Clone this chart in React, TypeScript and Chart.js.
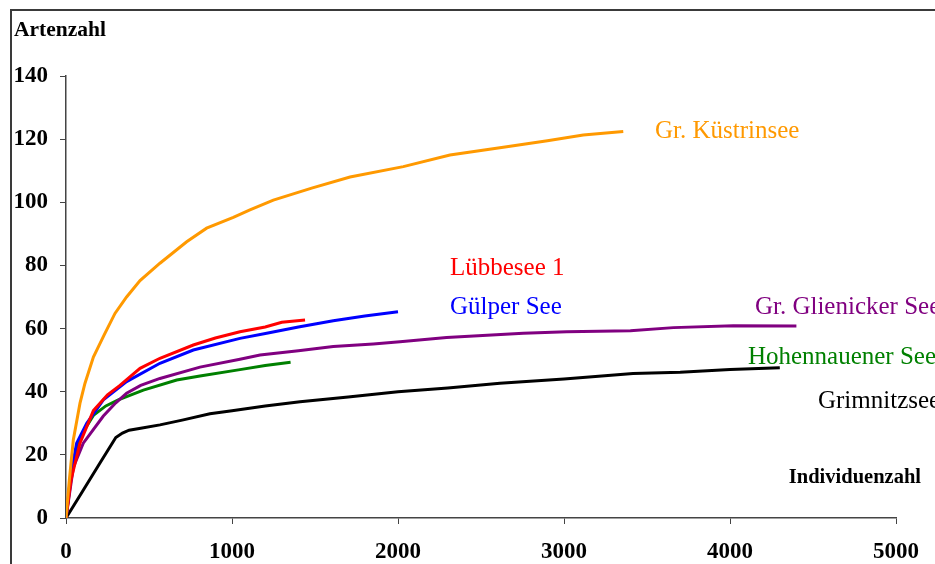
import React, { useEffect, useRef } from "react";
import { Chart, registerables } from "chart.js";

Chart.register(...registerables);

// ---- data (Individuenzahl -> Artenzahl) ----
const kuestrinX = [0, 20, 44, 84, 114, 165, 230, 295, 365, 446, 566, 727, 847, 1008, 1108, 1249, 1480, 1711, 2032, 2313, 2655, 2900, 3116, 3357];
const kuestrinY = [0, 12, 24.7, 36.3, 42.6, 51, 58, 64.8, 70, 75.2, 80.7, 87.5, 91.8, 95.2, 97.6, 100.7, 104.5, 108, 111.3, 115, 117.6, 119.5, 121.3, 122.4];

const luebbeX = [0, 30, 84, 165, 250, 325, 446, 566, 767, 900, 1048, 1200, 1300, 1440];
const luebbeY = [0, 12, 23.7, 34, 39, 42, 47.4, 50.6, 54.8, 57, 59, 60.5, 62, 62.7];

const guelperX = [0, 30, 64, 125, 225, 365, 566, 767, 1048, 1209, 1400, 1610, 1800, 2000];
const guelperY = [0, 14, 23.7, 30, 37.4, 43.2, 49, 53.2, 56.9, 58.5, 60.5, 62.5, 64, 65.3];

const hohenX = [0, 30, 64, 100, 165, 240, 315, 466, 667, 807, 1048, 1200, 1353];
const hohenY = [0, 13, 22.5, 27, 32.5, 35.5, 37.4, 40.5, 43.7, 45, 47, 48.3, 49.3];

const glienX = [0, 44, 104, 225, 300, 365, 450, 566, 807, 1048, 1169, 1400, 1610, 1851, 2012, 2293, 2755, 3016, 3400, 3659, 4020, 4400];
const glienY = [0, 16, 23.7, 32.3, 36.5, 39.5, 42, 44.2, 47.8, 50.3, 51.6, 53, 54.3, 55.1, 55.8, 57.2, 58.5, 59, 59.3, 60.3, 60.9, 60.8];

const grimX = [0, 100, 200, 300, 340, 380, 450, 566, 700, 867, 1000, 1200, 1410, 1700, 2000, 2300, 2614, 3000, 3416, 3700, 4000, 4300];
const grimY = [0, 8.5, 17, 25.5, 26.9, 27.8, 28.4, 29.5, 31, 33, 34, 35.5, 36.8, 38.3, 40, 41.2, 42.7, 44, 45.8, 46.2, 47, 47.6];

const seriesNames = ["Gr. Küstrinsee", "Lübbesee 1", "Gülper See", "Gr. Glienicker See", "Hohennauener See", "Grimnitzsee"];
const seriesColors = ["#FF9900", "#FF0000", "#0000FF", "#800080", "#008000", "#000000"];
const seriesXs = [kuestrinX, luebbeX, guelperX, glienX, hohenX, grimX];
const seriesYs = [kuestrinY, luebbeY, guelperY, glienY, hohenY, grimY];

// label anchors in data units (left edge of text, vertical middle)
const labelX = [3548, 2313, 2313, 4150, 4108, 4530];
const labelY = [122.3, 79.2, 66.8, 66.8, 51, 37];

const xTicks = [0, 1000, 2000, 3000, 4000, 5000];
const yTicks = [0, 20, 40, 60, 80, 100, 120, 140];

const yTitle = "Artenzahl";
const xTitle = "Individuenzahl";

const SERIF = "'Liberation Serif', 'Times New Roman', serif";

export default function App() {
  const ref = useRef<HTMLCanvasElement>(null);

  useEffect(() => {
    if (!ref.current) return;

    const framePlugin = {
      id: "frame",
      beforeDraw(chart: any) {
        const ctx = chart.ctx;
        ctx.save();
        ctx.fillStyle = "#ffffff";
        ctx.fillRect(0, 0, chart.width, chart.height);
        ctx.strokeStyle = "#3a3a3a";
        ctx.lineWidth = 2;
        ctx.beginPath();
        ctx.moveTo(11, chart.height);
        ctx.lineTo(11, 10);
        ctx.lineTo(chart.width, 10);
        ctx.stroke();
        ctx.restore();
      },
    };

    const labelPlugin = {
      id: "labels",
      afterDatasetsDraw(chart: any) {
        const ctx = chart.ctx;
        const xs = chart.scales.x;
        const ys = chart.scales.y;
        ctx.save();
        ctx.textBaseline = "middle";
        ctx.textAlign = "left";
        ctx.font = `25px ${SERIF}`;
        seriesNames.forEach((name, i) => {
          ctx.fillStyle = seriesColors[i];
          ctx.fillText(name, xs.getPixelForValue(labelX[i]), ys.getPixelForValue(labelY[i]));
        });
        ctx.fillStyle = "#000";
        ctx.font = `bold 21.5px ${SERIF}`;
        ctx.fillText(yTitle, 14, 30);
        ctx.textAlign = "right";
        ctx.font = `bold 20.5px ${SERIF}`;
        ctx.fillText(xTitle, 921, 478);
        ctx.restore();
      },
    };

    const chart = new Chart(ref.current, {
      type: "line",
      data: {
        datasets: seriesNames.map((name, i) => ({
          label: name,
          data: seriesXs[i].map((x, j) => ({ x, y: seriesYs[i][j] })),
          borderColor: seriesColors[i],
          backgroundColor: seriesColors[i],
          borderWidth: 3,
          pointRadius: 0,
          tension: 0,
          fill: false,
        })),
      },
      options: {
        animation: false,
        responsive: false,
        maintainAspectRatio: false,
        layout: { padding: { left: 0, top: 76, right: 39, bottom: 0 } },
        plugins: {
          legend: { display: false },
          tooltip: { enabled: false },
        },
        scales: {
          x: {
            type: "linear",
            min: 0,
            max: 5000,
            afterBuildTicks: (s: any) => {
              s.ticks = xTicks.map((v) => ({ value: v }));
            },
            afterFit: (s: any) => {
              s.height = 46;
            },
            grid: {
              drawOnChartArea: false,
              drawTicks: true,
              tickLength: 6,
              color: "#444",
            },
            border: { display: true, color: "#444", width: 1.5 },
            ticks: {
              color: "#000",
              font: { family: SERIF, size: 23, weight: "bold" },
              padding: 14,
              maxRotation: 0,
              autoSkip: false,
              callback: (v: any) => String(v),
            },
          },
          y: {
            type: "linear",
            min: 0,
            max: 140,
            afterBuildTicks: (s: any) => {
              s.ticks = yTicks.map((v) => ({ value: v }));
            },
            afterFit: (s: any) => {
              s.width = 66;
            },
            grid: {
              drawOnChartArea: false,
              drawTicks: true,
              tickLength: 6,
              color: "#444",
            },
            border: { display: true, color: "#444", width: 1.5 },
            ticks: {
              color: "#000",
              font: { family: SERIF, size: 23, weight: "bold" },
              padding: 12,
              autoSkip: false,
              callback: (v: any) => String(v),
            },
          },
        },
      },
      plugins: [framePlugin, labelPlugin],
    } as any);

    return () => chart.destroy();
  }, []);

  return (
    <div style={{ position: "fixed", left: 0, top: 0, width: 935, height: 564, background: "#fff" }}>
      <canvas ref={ref} width={935} height={564} style={{ display: "block", width: 935, height: 564 }} />
    </div>
  );
}
